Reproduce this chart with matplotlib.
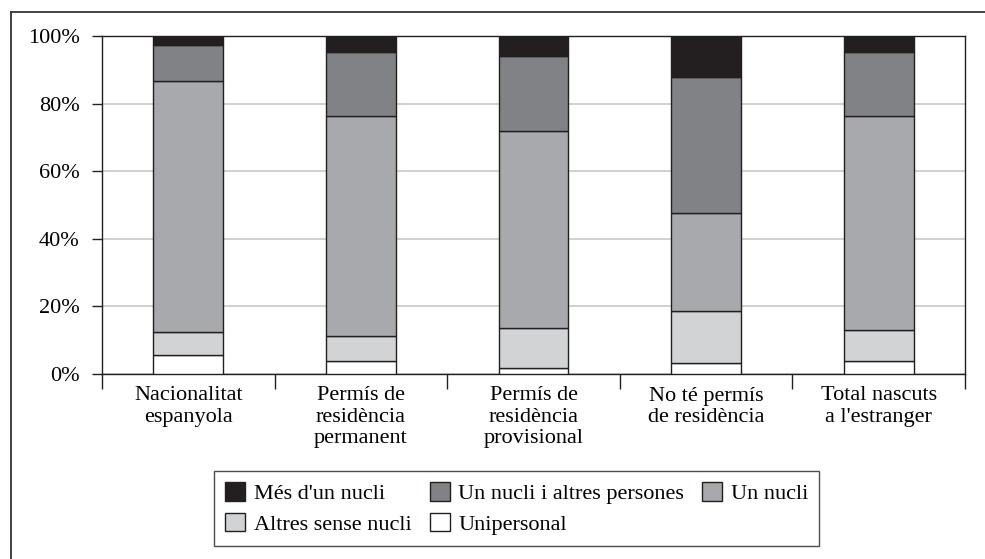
import matplotlib
matplotlib.use("Agg")
import matplotlib.pyplot as plt
from matplotlib.patches import Patch
from matplotlib.lines import Line2D
import numpy as np

categories = ["Nacionalitat\nespanyola", "Permís de\nresidència\npermanent",
              "Permís de\nresidència\nprovisional", "No té permís\nde residència",
              "Total nascuts\na l'estranger"]
unipersonal = [5.6, 3.8, 1.9, 3.2, 3.8]
altres_sense = [6.7, 7.5, 11.8, 15.4, 9.2]
un_nucli = [74.5, 65.0, 58.3, 29.1, 63.3]
un_nucli_altres = [10.5, 19.1, 22.2, 40.3, 19.1]
mes_nucli = [2.7, 4.6, 5.8, 12.0, 4.6]

series = [
    ("Unipersonal", unipersonal, "#ffffff"),
    ("Altres sense nucli", altres_sense, "#d1d3d4"),
    ("Un nucli", un_nucli, "#a7a9ac"),
    ("Un nucli i altres persones", un_nucli_altres, "#808285"),
    ("Més d'un nucli", mes_nucli, "#231f20"),
]
yticks = [0, 20, 40, 60, 80, 100]
ytick_labels = ["0%", "20%", "40%", "60%", "80%", "100%"]

plt.rcParams['font.family'] = ['Liberation Serif', 'DejaVu Serif']
plt.rcParams['font.size'] = 16

W, H = 985, 559
fig = plt.figure(figsize=(W / 100, H / 100), dpi=100)
ax = fig.add_axes([102 / W, 1 - 374 / H, (965 - 102) / W, (374 - 36) / H])

x = np.arange(len(categories))
bottom = np.zeros(len(categories))
handles = {}
for name, vals, col in series:
    ax.bar(x, vals, bottom=bottom, width=0.405, color=col, edgecolor="#231f20",
           linewidth=1.0, zorder=3)
    bottom += np.array(vals)
    handles[name] = Patch(facecolor=col, edgecolor="#231f20", linewidth=1.0)

ax.set_xlim(-0.5, len(categories) - 0.5)
ax.set_ylim(0, 100)
ax.set_yticks(yticks)
ax.set_yticklabels(ytick_labels)
ax.yaxis.grid(True, color="#c8c8c8", linewidth=1.2, zorder=0)
ax.set_axisbelow(True)
ax.set_xticks(x)
ax.set_xticklabels(categories, linespacing=1.15)
ax.set_xticks(np.arange(-0.5, len(categories), 1.0), minor=True)
ax.tick_params(axis="x", which="major", length=0, pad=9)
ax.tick_params(axis="x", which="minor", length=11, width=1.0, direction="out", color="#231f20")
ax.tick_params(axis="y", length=7, width=1.0, direction="out", pad=9, color="#231f20")
for s in ax.spines.values():
    s.set_color("#231f20")
    s.set_linewidth(1.0)

order = ["Més d'un nucli", "Altres sense nucli", "Un nucli i altres persones",
         "Unipersonal", "Un nucli"]
leg = fig.legend([handles[o] for o in order], order, ncol=3,
                 loc="upper left", bbox_to_anchor=(214 / W, 1 - 471 / H),
                 frameon=True, fancybox=False, edgecolor="#231f20",
                 handlelength=0.9, handleheight=0.9, handletextpad=0.4,
                 columnspacing=0.8, labelspacing=0.4, borderpad=0.5,
                 fontsize=16, borderaxespad=0)
leg.get_frame().set_linewidth(1.0)

# outer frame (left and top edges)
fig.add_artist(Line2D([11 / W, 11 / W], [0, 1 - 12 / H], transform=fig.transFigure,
                      color="#333333", linewidth=1.3))
fig.add_artist(Line2D([11 / W, 1], [1 - 12 / H, 1 - 12 / H], transform=fig.transFigure,
                      color="#333333", linewidth=1.3))

fig.savefig("out.png", dpi=100)
